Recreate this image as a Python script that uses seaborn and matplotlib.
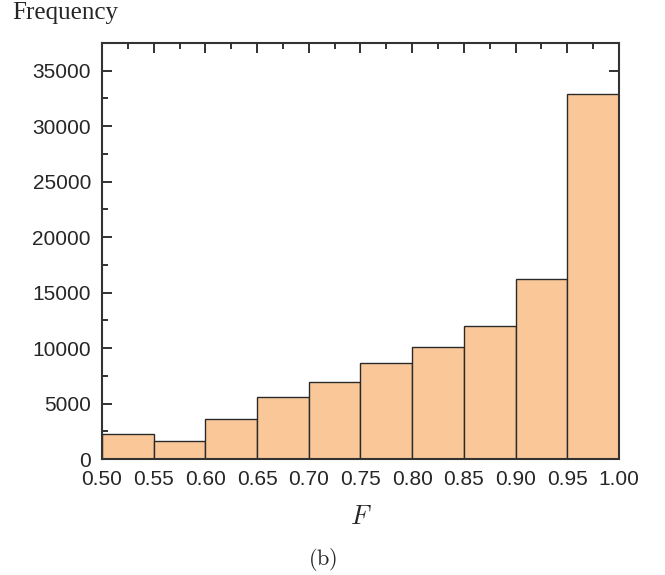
import numpy as np
import pandas as pd
import matplotlib
matplotlib.use("Agg")
import matplotlib.pyplot as plt
from matplotlib.ticker import MultipleLocator, FormatStrFormatter
import seaborn as sns

# Histogram of F: bin edges and counts per bin
bin_edges = [0.50, 0.55, 0.60, 0.65, 0.70, 0.75, 0.80, 0.85, 0.90, 0.95, 1.00]
counts = [2220, 1600, 3640, 5570, 6970, 8650, 10090, 11980, 16220, 32910]
x_ticks = [0.50, 0.55, 0.60, 0.65, 0.70, 0.75, 0.80, 0.85, 0.90, 0.95, 1.00]
y_ticks = [0, 5000, 10000, 15000, 20000, 25000, 30000, 35000]

centers = [(a + b) / 2 for a, b in zip(bin_edges[:-1], bin_edges[1:])]
df = pd.DataFrame({"F": centers, "count": counts})

sns.set_style("white")
plt.rcParams["font.family"] = ["Liberation Sans", "DejaVu Sans"]
plt.rcParams["mathtext.fontset"] = "cm"

fig = plt.figure(figsize=(6.65, 5.75), dpi=100)
ax = fig.add_axes([0.1534, 0.2017, 0.7774, 0.7235])

sns.histplot(data=df, x="F", weights="count", bins=bin_edges, ax=ax,
             color="#FAC898", alpha=1.0, edgecolor="#2a2a2a", linewidth=1.0)

ax.set_xlim(0.5, 1.0)
ax.set_ylim(0, 37500)
ax.set_xticks(x_ticks)
ax.set_yticks(y_ticks)
ax.xaxis.set_major_formatter(FormatStrFormatter("%.2f"))
ax.xaxis.set_minor_locator(MultipleLocator(0.025))
ax.yaxis.set_minor_locator(MultipleLocator(2500))

ax.tick_params(which="both", direction="in", top=True, right=True,
               bottom=True, left=True, width=1.3, color="#222222")
ax.tick_params(which="major", length=7, labelsize=15)
ax.tick_params(axis="x", which="major", pad=8)
ax.tick_params(axis="y", which="major", pad=8)
ax.tick_params(which="minor", length=4)
for s in ax.spines.values():
    s.set_visible(True)
    s.set_linewidth(1.5)
    s.set_color("#333333")

ax.set_xlabel("")
ax.set_ylabel("")
fig.text(0.018, 0.977, "Frequency", family="Liberation Serif", fontsize=18,
         ha="left", va="center")
fig.text(0.543, 0.1, r"$F$", fontsize=19, ha="center", va="center")
fig.text(0.485, 0.027, r"$\mathrm{(b)}$", fontsize=16, ha="center", va="center")

fig.savefig("out.png", dpi=100)
